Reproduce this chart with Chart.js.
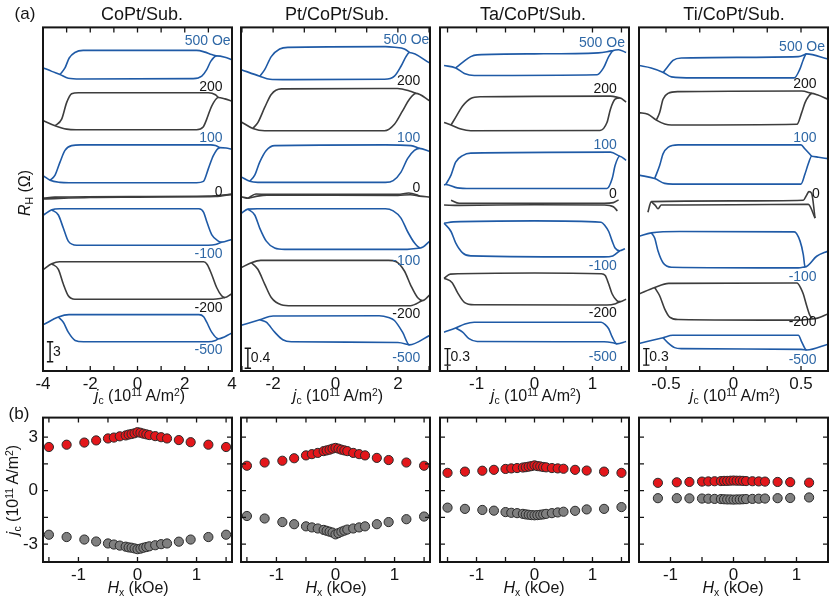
<!DOCTYPE html>
<html>
<head>
<meta charset="utf-8">
<script src="https://cdn.jsdelivr.net/npm/chart.js@4.4.1/dist/chart.umd.min.js"></script>
<style>
  body { margin: 0; width: 830px; height: 607px; position: relative; overflow: hidden; background: #fff;
         font-family: "Liberation Sans", Arial, sans-serif; color: #151515; }
  canvas, .t { position: absolute; }
  .t { white-space: nowrap; line-height: 1; transform: translate(-50%, -50%); }
  .rot { transform: translate(-50%, -50%) rotate(-90deg); }
  sub { font-size: 0.65em; vertical-align: -0.3em; }
  sup { font-size: 0.65em; vertical-align: 0.5em; }
</style>
</head>
<body>
<script>
// ---- (a) current-induced switching loops, R_H offset per field (panel units, 0..100) ----
const samples = ['CoPt/Sub.', 'Pt/CoPt/Sub.', 'Ta/CoPt/Sub.', 'Ti/CoPt/Sub.'];
const fields = ['500 Oe', '200', '100', '0', '-100', '-200', '-500'];
const fieldIsBlue = [true, false, true, false, true, false, true];

const jcMin = [-4, -3.03, -1.63, -0.7];
const jcMax = [4, 3.03, 1.63, 0.7];
const jcTicks = [
  [-4, -3, -2, -1, 0, 1, 2, 3, 4],
  [-3, -2, -1, 0, 1, 2, 3],
  [-1.5, -1, -0.5, 0, 0.5, 1, 1.5],
  [-0.5, -0.25, 0, 0.25, 0.5]
];
const jcLabels = [[-4, -2, 0, 2, 4], [-2, 0, 2], [-1, 0, 1], [-0.5, 0, 0.5]];
const scaleBarText = ['3', '0.4', '0.3', '0.3'];
const scaleBarLen = [5.8, 5.8, 4.8, 4.8];

// each field: [lower branch, upper branch], points [j_c, R_H]
const loopsCoPt = [
  [[[-3.98,88.2],[-3.63,87.2],[-3.28,86.3],[-2.93,85.2],[-2.43,85.0],[2.36,85.1],[2.72,85.8],[2.93,87.7],[3.10,90.1],[3.35,91.7],[3.70,91.3],[3.98,90.6]],
   [[-3.28,86.3],[-3.07,88.2],[-2.89,91.1],[-2.65,92.7],[-2.30,93.3],[2.50,93.3],[2.86,92.8],[3.14,92.1],[3.35,91.7]]],
  [[[-3.98,72.8],[-3.49,71.4],[-3.0,70.4],[-2.6,70.2],[2.5,70.2],[2.78,71.0],[2.93,73.3],[3.14,77.1],[3.42,79.6],[3.70,79.2],[3.98,78.6]],
   [[-3.49,71.4],[-3.21,73.3],[-3.0,78.1],[-2.79,80.7],[-2.5,81.0],[3.0,81.0],[3.3,80.4],[3.42,79.6]]],
  [[[-3.98,56.8],[-3.70,55.5],[-3.28,54.9],[-2.9,54.8],[2.5,54.8],[2.79,55.2],[3.0,58.9],[3.21,62.7],[3.49,65.0],[3.75,64.9],[3.98,64.6]],
   [[-3.70,55.5],[-3.49,57.0],[-3.28,60.8],[-3.07,64.2],[-2.79,65.6],[-2.4,65.8],[3.1,65.8],[3.3,65.6],[3.49,65.0]]],
  [[[-3.98,50.1],[-2,50.5],[0,50.6],[2.5,50.7],[3.3,50.8],[3.98,51.4]],
   [[-3.98,50.3],[-3.5,50.6],[0,50.8],[3.0,50.9],[3.98,51.4]]],
  [[[-3.98,45.4],[-3.63,46.9],[-3.3,47.2],[2.6,47.2],[2.8,46.2],[2.93,43.5],[3.14,39.7],[3.42,37.8],[3.56,37.5],[3.98,38.3]],
   [[-3.63,46.9],[-3.35,45.4],[-3.14,41.6],[-2.93,37.8],[-2.57,36.6],[3.0,36.6],[3.3,36.8],[3.56,37.5]]],
  [[[-3.98,29.6],[-3.63,31.2],[-3.3,31.8],[2.8,31.8],[2.95,31.0],[3.14,28.1],[3.35,24.3],[3.56,21.9],[3.70,21.4],[3.98,22.4]],
   [[-3.63,31.2],[-3.35,29.6],[-3.14,25.3],[-2.93,21.9],[-2.65,20.9],[3.2,20.9],[3.5,21.1],[3.70,21.4]]],
  [[[-3.98,13.5],[-3.35,15.7],[-2.9,16.4],[2.6,16.4],[2.8,15.8],[2.93,14.2],[3.14,11.3],[3.42,9.4],[3.98,11.0]],
   [[-3.35,15.7],[-3.14,14.2],[-2.93,11.3],[-2.64,8.9],[-2.29,8.5],[3.0,8.5],[3.3,8.9],[3.42,9.4]]]
];

const loopsPt = [
  [[[-3.02,87.7],[-2.43,85.8],[-2.1,84.9],[-1.7,84.8],[1.57,84.9],[1.89,85.8],[2.10,88.7],[2.26,91.5],[2.37,92.7],[3.03,89.6]],
   [[-2.43,85.8],[-2.27,87.7],[-2.06,91.5],[-1.79,93.7],[-1.53,94.2],[1.6,94.4],[1.89,94.2],[2.21,93.7],[2.37,92.7]]],
  [[[-3.02,72.5],[-2.65,70.6],[-2.27,69.9],[1.57,69.9],[1.89,71.8],[2.15,75.7],[2.37,79.1],[2.58,80.8],[3.03,78.6]],
   [[-2.65,70.6],[-2.49,72.3],[-2.27,76.7],[-2.06,80.5],[-1.74,82.1],[1.99,82.2],[2.37,81.5],[2.58,80.8]]],
  [[[-3.02,56.5],[-2.75,55.2],[-2.49,54.9],[1.6,54.9],[1.85,55.4],[2.10,57.9],[2.31,61.8],[2.53,64.2],[2.69,64.8],[3.03,63.9]],
   [[-2.75,55.2],[-2.59,57.0],[-2.43,60.8],[-2.22,64.2],[-1.95,65.6],[1.6,65.8],[2.42,65.6],[2.69,64.8]]],
  [[[-3.02,50.7],[-2.8,50.3],[-2.5,50.9],[-2.2,51.2],[2.0,51.1],[2.4,51.3],[2.7,50.9],[3.03,50.6]],
   [[-2.8,50.3],[-2.55,51.5],[-2.2,51.4],[2.0,51.4],[2.35,51.8],[2.6,51.3],[2.7,50.9]]],
  [[[-3.02,45.9],[-2.81,47.1],[-2.5,47.2],[1.6,47.2],[1.85,46.6],[2.10,44.5],[2.31,40.6],[2.53,37.3],[2.72,35.8],[3.03,37.8]],
   [[-2.81,47.1],[-2.59,45.4],[-2.43,41.6],[-2.22,37.8],[-1.95,35.8],[-1.63,35.4],[2.3,35.4],[2.72,35.8]]],
  [[[-3.02,30.1],[-2.70,31.5],[-2.4,32.2],[1.7,32.2],[1.95,31.8],[2.21,29.1],[2.42,24.8],[2.63,21.4],[2.79,20.5],[3.03,22.2]],
   [[-2.70,31.5],[-2.49,29.6],[-2.27,25.3],[-2.06,21.4],[-1.74,19.3],[-1.4,19.0],[2.4,19.0],[2.79,20.5]]],
  [[[-3.02,13.3],[-2.43,14.9],[-2.0,16.0],[1.4,16.1],[1.7,15.6],[1.89,14.7],[2.15,11.3],[2.37,7.6],[3.03,10.4]],
   [[-2.43,14.9],[-2.22,14.2],[-1.95,11.3],[-1.69,9.1],[-1.42,8.5],[2.0,8.3],[2.37,7.6]]]
];

const loopsTa = [
  [[[-1.56,88.9],[-1.36,88.2],[-1.21,86.6],[-1.04,86.0],[1.08,86.2],[1.19,88.2],[1.28,91.5],[1.36,93.3],[1.45,93.5],[1.58,92.7]],
   [[-1.36,88.2],[-1.24,89.8],[-1.10,91.5],[-0.99,92.0],[0,92.3],[1.1,92.6],[1.25,92.9],[1.36,93.3]]],
  [[[-1.56,72.3],[-1.44,71.6],[-1.27,70.4],[-1.10,69.9],[1.13,70.0],[1.25,72.3],[1.31,76.2],[1.39,79.1],[1.47,79.5],[1.58,78.3]],
   [[-1.44,71.6],[-1.36,73.8],[-1.24,77.1],[-1.10,79.3],[-0.93,79.8],[1.31,80.0],[1.47,79.5]]],
  [[[-1.56,54.1],[-1.53,54.3],[-1.33,53.3],[-1.10,53.1],[1.25,53.1],[1.34,56.0],[1.39,59.8],[1.47,62.5],[1.58,61.3]],
   [[-1.53,54.3],[-1.44,57.0],[-1.36,60.8],[-1.24,62.7],[-1.10,63.4],[1.31,63.7],[1.47,62.5]]],
  [[[-1.56,48.3],[-1.3,48.2],[0,48.4],[1.2,48.3],[1.36,47.8],[1.43,46.6]],
   [[-1.44,49.7],[-1.3,48.8],[0,48.8],[1.2,48.8],[1.36,49.0],[1.45,49.8]]],
  [[[-1.56,43.0],[-1.4,43.4],[0,43.7],[1.15,43.3],[1.22,42.2],[1.28,40.6],[1.34,37.8],[1.39,35.8],[1.47,35.0],[1.56,35.6]],
   [[-1.56,43.0],[-1.44,40.6],[-1.36,37.3],[-1.24,34.4],[-1.10,33.5],[1.2,33.2],[1.35,33.5],[1.47,35.0]]],
  [[[-1.56,27.0],[-1.45,28.2],[0,28.5],[1.15,28.3],[1.22,27.8],[1.28,25.3],[1.34,22.4],[1.42,20.5],[1.48,20.2],[1.58,20.9]],
   [[-1.56,27.0],[-1.42,25.7],[-1.33,22.9],[-1.21,20.0],[-1.04,19.3],[1.25,19.2],[1.4,19.6],[1.48,20.2]]],
  [[[-1.56,11.3],[-1.36,12.5],[-1.2,13.7],[-1.04,14.2],[1.15,14.2],[1.22,13.5],[1.28,12.3],[1.34,9.9],[1.42,7.9],[1.58,8.6]],
   [[-1.36,12.5],[-1.24,11.3],[-1.13,9.4],[-0.99,8.6],[1.2,8.5],[1.35,8.2],[1.42,7.9]]]
];

const loopsTi = [
  [[[-0.70,88.9],[-0.61,88.2],[-0.52,86.9],[-0.46,85.6],[-0.3,85.3],[0.45,85.3],[0.49,87.7],[0.517,90.6],[0.54,92.3],[0.70,90.8]],
   [[-0.52,86.9],[-0.485,88.7],[-0.448,90.4],[-0.386,91.1],[0.48,91.5],[0.54,92.3]]],
  [[[-0.70,75.2],[-0.634,74.7],[-0.572,73.0],[-0.51,71.9],[-0.46,71.6],[0.47,71.8],[0.505,75.2],[0.53,78.1],[0.554,79.8],[0.58,80.8],[0.62,80.4],[0.70,79.1]],
   [[-0.572,73.0],[-0.547,75.2],[-0.522,79.1],[-0.485,80.8],[-0.41,81.3],[0.505,81.5],[0.58,80.8]]],
  [[[-0.70,57.0],[-0.584,56.0],[-0.51,54.6],[-0.45,54.4],[0.5,54.4],[0.53,57.4],[0.554,60.3],[0.579,62.5],[0.63,62.2],[0.70,61.8]],
   [[-0.584,56.0],[-0.547,59.8],[-0.522,63.2],[-0.485,65.1],[-0.41,65.8],[0.50,65.8],[0.53,64.6],[0.579,62.5]]],
  [[[-0.634,46.2],[-0.609,49.3],[0,49.5],[0.517,49.7],[0.542,51.2],[0.559,52.2],[0.579,51.7],[0.604,44.5]],
   [[-0.609,49.3],[-0.579,48.2],[-0.559,47.2],[-0.535,48.3],[0,48.4],[0.554,48.5],[0.604,44.5]]],
  [[[-0.70,39.2],[-0.609,40.2],[-0.4,40.6],[0.45,40.5],[0.493,37.8],[0.517,33.9],[0.53,30.3],[0.616,33.4],[0.70,34.9]],
   [[-0.609,40.2],[-0.584,38.7],[-0.559,34.9],[-0.522,31.5],[-0.46,30.2],[0.48,30.0],[0.53,30.3]]],
  [[[-0.70,22.4],[-0.584,24.3],[-0.48,25.5],[0.47,25.6],[0.50,24.0],[0.517,22.4],[0.542,19.0],[0.567,16.1],[0.592,15.2],[0.70,16.6]],
   [[-0.584,24.3],[-0.547,21.9],[-0.51,18.1],[-0.473,15.7],[-0.41,15.0],[0.5,14.8],[0.592,15.2]]],
  [[[-0.70,8.0],[-0.522,9.7],[-0.45,10.4],[0.48,10.4],[0.505,8.5],[0.53,6.5],[0.542,6.1],[0.70,7.8]],
   [[-0.522,9.7],[-0.485,8.2],[-0.436,6.8],[-0.386,6.5],[0.5,6.3],[0.542,6.1]]]
];
const topLoops = [loopsCoPt, loopsPt, loopsTa, loopsTi];

// ---- (b) critical current vs in-plane field ----
const hxField = [-1.5,-1.2,-0.9,-0.7,-0.5,-0.4,-0.3,-0.2,-0.15,-0.1,-0.05,0,0.05,0.1,0.15,0.2,0.3,0.4,0.5,0.7,0.9,1.2,1.5];
const hxFieldTi = [-1.2,-0.9,-0.7,-0.5,-0.4,-0.3,-0.2,-0.15,-0.1,-0.05,0,0.05,0.1,0.15,0.2,0.3,0.4,0.5,0.7,0.9,1.2];
const jcPosCoPt = [2.45,2.58,2.70,2.82,2.93,2.98,3.05,3.10,3.15,3.18,3.22,3.28,3.25,3.20,3.16,3.12,3.06,3.00,2.93,2.84,2.72,2.58,2.45];
const jcNegCoPt = [-2.47,-2.60,-2.74,-2.85,-2.96,-3.02,-3.08,-3.14,-3.18,-3.20,-3.24,-3.28,-3.25,-3.20,-3.16,-3.12,-3.06,-3.00,-2.96,-2.86,-2.74,-2.60,-2.47];
const jcPosPt = [1.40,1.58,1.68,1.82,1.98,2.05,2.12,2.22,2.26,2.30,2.36,2.40,2.36,2.30,2.26,2.22,2.12,2.05,1.98,1.84,1.72,1.58,1.40];
const jcNegPt = [-1.42,-1.56,-1.76,-1.88,-2.00,-2.06,-2.12,-2.20,-2.25,-2.30,-2.35,-2.45,-2.38,-2.30,-2.24,-2.18,-2.12,-2.06,-2.00,-1.88,-1.76,-1.60,-1.45];
const jcPosTa = [1.00,1.07,1.12,1.17,1.22,1.25,1.27,1.30,1.32,1.35,1.38,1.42,1.38,1.36,1.33,1.31,1.27,1.25,1.23,1.17,1.13,1.07,1.00];
const jcNegTa = [-0.95,-1.02,-1.08,-1.12,-1.20,-1.24,-1.26,-1.30,-1.33,-1.35,-1.37,-1.38,-1.37,-1.35,-1.33,-1.30,-1.26,-1.22,-1.18,-1.13,-1.05,-1.02,-0.92];
const jcPosTi = [0.44,0.47,0.49,0.51,0.52,0.53,0.54,0.55,0.55,0.56,0.57,0.56,0.56,0.55,0.54,0.53,0.52,0.51,0.49,0.48,0.45];
const jcNegTi = [-0.42,-0.42,-0.43,-0.44,-0.45,-0.46,-0.47,-0.48,-0.49,-0.49,-0.50,-0.49,-0.49,-0.48,-0.47,-0.46,-0.45,-0.44,-0.42,-0.41,-0.38];
const hxLists = [hxField, hxField, hxField, hxFieldTi];
const jcPos = [jcPosCoPt, jcPosPt, jcPosTa, jcPosTi];
const jcNeg = [jcNegCoPt, jcNegPt, jcNegTa, jcNegTi];
const hxMax = [1.6, 1.6, 1.63, 1.5];
const hxTicks = [-1.5, -1, -0.5, 0, 0.5, 1, 1.5];
const hxLabels = [-1, 0, 1];
const jcAxisTicks = [-3, -1.5, 0, 1.5, 3];
const jcAxisLabels = [3, 0, -3];

// ---- layout ----
const PL = [43, 241, 440, 639], PW = 189;
const TOP_Y = 24, TOP_H = 347, BOT_Y = 414, BOT_H = 148, M = 14;
const labelX = [
  [3.94, 3.6, 3.6, 3.6, 3.6, 3.6, 3.6],
  [3.01, 2.72, 2.72, 2.72, 2.72, 2.72, 2.72],
  [1.56, 1.42, 1.42, 1.42, 1.42, 1.42, 1.42],
  [0.678, 0.616, 0.616, 0.64, 0.616, 0.616, 0.616]
];
const labelY = [
  [95.9, 82.7, 67.8, 52.2, 33.9, 18.3, 6.0],
  [96.3, 84.3, 67.7, 53.1, 32.0, 16.6, 3.7],
  [95.4, 82.1, 65.8, 51.4, 30.5, 16.8, 4.1],
  [94.2, 83.6, 67.7, 51.4, 27.4, 14.2, 3.2]
];
const barX = [-3.70, -2.81, -1.50, -0.646];
const barY = [2.7, 0.8, 1.7, 1.7];

const BLUE = '#1f5aa6', GRAY = '#3d3d3d', LBLUE = '#2f68a6', INK = '#151515';
const RED = '#e3171b', DOTGRAY = '#808080';
const FONT = '"Liberation Sans", Arial, sans-serif';

Chart.defaults.font.family = FONT;
Chart.defaults.color = INK;

function place(left, top, w, h) {
  const c = document.createElement('canvas');
  c.width = w; c.height = h;
  c.style.left = left + 'px'; c.style.top = top + 'px';
  document.body.appendChild(c);
  return c;
}

function text(html, x, y, size, cls) {
  const d = document.createElement('div');
  d.className = 't' + (cls ? ' ' + cls : '');
  d.style.left = x + 'px'; d.style.top = y + 'px';
  d.style.fontSize = size + 'px';
  d.innerHTML = html;
  document.body.appendChild(d);
}

// frame, inward ticks and in-plot labels
function framePlugin(xt, yt, labels) {
  return {
    id: 'frame',
    afterDraw(chart) {
      const { ctx, chartArea: a, scales } = chart;
      ctx.save();
      ctx.strokeStyle = INK; ctx.lineWidth = 1.3;
      ctx.beginPath();
      xt.forEach(v => {
        const p = scales.x.getPixelForValue(v);
        ctx.moveTo(p, a.top); ctx.lineTo(p, a.top + 5);
        ctx.moveTo(p, a.bottom); ctx.lineTo(p, a.bottom - 5);
      });
      yt.forEach(v => {
        const p = scales.y.getPixelForValue(v);
        ctx.moveTo(a.left, p); ctx.lineTo(a.left + 5, p);
        ctx.moveTo(a.right, p); ctx.lineTo(a.right - 5, p);
      });
      ctx.stroke();
      ctx.lineWidth = 2;
      ctx.strokeRect(a.left, a.top, a.right - a.left, a.bottom - a.top);
      labels.forEach(l => {
        ctx.fillStyle = l.color;
        ctx.font = '14px ' + FONT;
        ctx.textAlign = l.align; ctx.textBaseline = 'middle';
        ctx.fillText(l.text, scales.x.getPixelForValue(l.x) + (l.dx || 0), scales.y.getPixelForValue(l.y));
      });
      ctx.restore();
    }
  };
}

const common = {
  responsive: false, animation: false, events: [],
  plugins: { legend: { display: false }, tooltip: { enabled: false } }
};

function xAxis(min, max, labels) {
  return {
    type: 'linear', min, max,
    grid: { display: false, drawTicks: false }, border: { display: false },
    afterBuildTicks: s => { s.ticks = labels.map(v => ({ value: v })); },
    afterFit: s => { s.height = 26; s.paddingLeft = 0; s.paddingRight = 0; },
    ticks: { autoSkip: false, maxRotation: 0, padding: 3, font: { size: 17 }, color: INK, callback: v => String(v) }
  };
}

function topChart(i) {
  const cv = place(PL[i] - M, TOP_Y - 2, PW + 2 * M, TOP_H + 28);
  const datasets = [];
  topLoops[i].forEach((pair, k) => {
    pair.forEach(path => datasets.push({
      data: path.map(([x, y]) => ({ x, y })),
      borderColor: fieldIsBlue[k] ? BLUE : GRAY,
      borderWidth: 1.6, pointRadius: 0, fill: false,
      cubicInterpolationMode: 'monotone'
    }));
  });
  datasets.push({
    data: [{ x: barX[i], y: barY[i] }, { x: barX[i], y: barY[i] + scaleBarLen[i] }],
    borderColor: INK, borderWidth: 1.4, tension: 0,
    pointStyle: 'line', pointRadius: 3.2, pointBorderWidth: 1.4, pointBorderColor: INK
  });
  const labels = fields.map((f, k) => ({
    text: f, x: labelX[i][k], y: labelY[i][k],
    color: fieldIsBlue[k] ? LBLUE : INK, align: 'right'
  }));
  labels.push({ text: scaleBarText[i], x: barX[i], dx: 3, y: barY[i] + scaleBarLen[i] / 2, color: INK, align: 'left' });
  new Chart(cv, {
    type: 'line',
    data: { datasets },
    options: {
      ...common,
      layout: { padding: { left: M, right: M, top: 2, bottom: 0 } },
      scales: {
        x: xAxis(jcMin[i], jcMax[i], jcLabels[i]),
        y: { display: false, min: 0, max: 100 }
      }
    },
    plugins: [framePlugin(jcTicks[i], [], labels)]
  });
}

function botChart(i) {
  const L = i === 0 ? 38 : M;
  const cv = place(PL[i] - L, BOT_Y - 2, PW + L + M, BOT_H + 28);
  const dot = (ys, fill) => ({
    data: hxLists[i].map((x, k) => ({ x, y: ys[k] })),
    pointBackgroundColor: fill, pointBorderColor: '#2a2a2a',
    pointBorderWidth: 1, pointRadius: 4.6
  });
  const y = i === 0 ? {
    min: -4, max: 4.1,
    grid: { display: false, drawTicks: false }, border: { display: false },
    afterBuildTicks: s => { s.ticks = jcAxisLabels.map(v => ({ value: v })); },
    afterFit: s => { s.width = L; s.paddingTop = 0; s.paddingBottom = 0; },
    ticks: { autoSkip: false, padding: 5, font: { size: 17 }, color: INK, callback: v => String(v) }
  } : { display: false, min: -4, max: 4.1 };
  new Chart(cv, {
    type: 'scatter',
    data: { datasets: [dot(jcPos[i], RED), dot(jcNeg[i], DOTGRAY)] },
    options: {
      ...common,
      layout: { padding: { left: i === 0 ? 0 : M, right: M, top: 2, bottom: 0 } },
      scales: { x: xAxis(-hxMax[i], hxMax[i], hxLabels), y }
    },
    plugins: [framePlugin(hxTicks, jcAxisTicks, [])]
  });
}

for (let i = 0; i < 4; i++) { topChart(i); botChart(i); }

// ---- texts ----
const titleX = [142, 337, 533, 734];
const axisTitleX = [140, 338, 536, 735];
text('(a)', 25, 13, 17);
text('(b)', 19, 413, 17);
samples.forEach((s, i) => {
  text(s, titleX[i], 14, 18);
  text('<i>j</i><sub>c</sub> (10<sup>11</sup> A/m<sup>2</sup>)', axisTitleX[i], 397, 16);
  text('<i>H</i><sub>x</sub> (kOe)', axisTitleX[i] - 2, 589, 16);
});
text('<i>R</i><sub>H</sub> (&Omega;)', 26, 193, 16, 'rot');
text('<i>j</i><sub>c</sub> (10<sup>11</sup> A/m<sup>2</sup>)', 14, 490, 16, 'rot');
</script>
</body>
</html>
